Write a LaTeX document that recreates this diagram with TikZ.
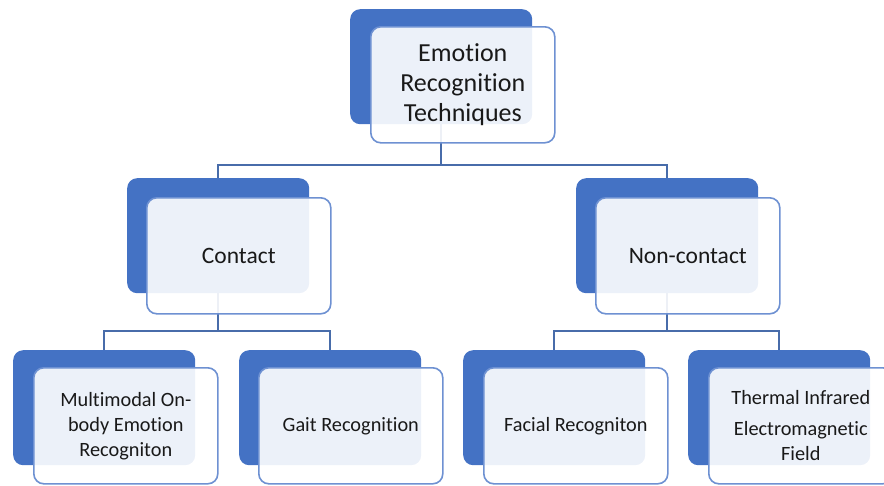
\documentclass[tikz,border=0pt]{standalone}
\usepackage{fontspec}
\setmainfont{Carlito}[Ligatures=NoCommon]
\definecolor{boxblue}{RGB}{68,114,196}
\definecolor{rimblue}{RGB}{110,145,210}
\definecolor{linkblue}{RGB}{72,108,170}
\definecolor{inktext}{RGB}{25,25,25}
\begin{document}
\begin{tikzpicture}[x=1pt,y=-1pt,
  backbox/.style={fill=boxblue, rounded corners=10pt, minimum width=182pt,
    minimum height=115pt, anchor=north west, inner sep=0pt},
  frontbox/.style={draw=rimblue, line width=1.6pt, fill=white, fill opacity=0.9,
    text opacity=1, text=inktext, rounded corners=10pt, minimum width=184pt,
    minimum height=116pt, anchor=north west, inner sep=2pt, align=center},
  topfont/.style={font=\fontsize{26}{30}\selectfont},
  midfont/.style={font=\fontsize{23.5}{27}\selectfont},
  lowfont/.style={font=\fontsize{20.3}{25}\selectfont},
  link/.style={draw=linkblue, line width=1.6pt}]
\useasboundingbox (0,0) rectangle (884,485);
\begin{scope}
\clip (0,0) rectangle (884,485);

% blue back plates
\node[backbox] (root-b) at (350,9) {};
\node[backbox] (con-b) at (127,178) {};
\node[backbox] (non-b) at (576,178) {};
\node[backbox] (mm-b) at (13,350) {};
\node[backbox] (gait-b) at (239,350) {};
\node[backbox] (face-b) at (463,350) {};
\node[backbox] (therm-b) at (688,350) {};

% tree connectors
\coordinate (bar1) at (0,165);
\coordinate (bar2) at (0,331);
\draw[link] (root-b.south) -- (root-b.south |- bar1) -| (con-b.north);
\draw[link] (root-b.south |- bar1) -| (non-b.north);
\draw[link] (con-b.south) -- (con-b.south |- bar2) -| (mm-b.north);
\draw[link] (con-b.south |- bar2) -| (gait-b.north);
\draw[link] (non-b.south) -- (non-b.south |- bar2) -| (face-b.north);
\draw[link] (non-b.south |- bar2) -| (therm-b.north);

% labelled front cards
\node[frontbox, topfont] (root) at (370,26) {Emotion\\Recognition\\Techniques};
\node[frontbox, midfont] (con) at (146,197) {Contact};
\node[frontbox, midfont] (non) at (595,197) {Non-contact};
\node[frontbox, lowfont] (mm) at (33,367) {Multimodal On-\\body Emotion\\Recogniton};
\node[frontbox, lowfont] (gait) at (258,367) {Gait Recognition};
\node[frontbox, lowfont] (face) at (483,367) {Facial Recogniton};
\node[frontbox, lowfont] (therm) at (708,367) {Thermal Infrared\\[6pt]Electromagnetic\\Field};
\end{scope}
\end{tikzpicture}
\end{document}
